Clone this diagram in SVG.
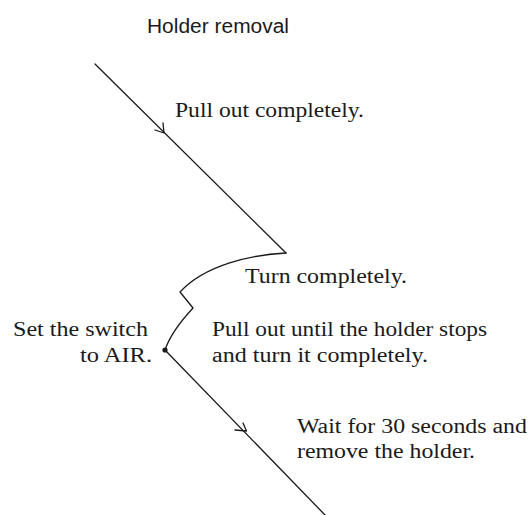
<svg xmlns="http://www.w3.org/2000/svg" width="531" height="515" viewBox="0 0 531 515">
<style>
.ln{fill:none;stroke:#1a1a1a;stroke-width:1.3;stroke-linecap:round;stroke-linejoin:round}
.t{font-family:"Liberation Serif","Times New Roman",serif;font-size:20px;fill:#1a1a1a}
.h{font-family:"Liberation Sans",Arial,sans-serif;font-size:20px;fill:#1a1a1a}
</style>
<rect width="531" height="515" fill="#ffffff"/>
<g id="connectors">
<path class="ln" d="M95,64 L286,253"/>
<path class="ln" d="M155,130 L164,133 L163,123"/>
<path class="ln" d="M286,253 C250,255 205,265 180,292 L193,308 C180,322 170,335 165,350"/>
<path class="ln" d="M165,350 L325,515"/>
<path class="ln" d="M235,430 L246.5,431 L243,423"/>
<circle cx="165" cy="350" r="2.6" fill="#1a1a1a"/>
</g>
<g id="title"><text class="h" x="147" y="33" textLength="142" lengthAdjust="spacingAndGlyphs">Holder removal</text></g>
<g id="step1"><text class="t" x="175" y="117" textLength="189" lengthAdjust="spacingAndGlyphs">Pull out completely.</text></g>
<g id="step2"><text class="t" x="245" y="283" textLength="162" lengthAdjust="spacingAndGlyphs">Turn completely.</text></g>
<g id="step3">
<text class="t" x="13" y="336" textLength="135" lengthAdjust="spacingAndGlyphs">Set the switch</text>
<text class="t" x="80" y="362" textLength="72" lengthAdjust="spacingAndGlyphs">to AIR.</text>
</g>
<g id="step4">
<text class="t" x="212" y="336" textLength="275" lengthAdjust="spacingAndGlyphs">Pull out until the holder stops</text>
<text class="t" x="212" y="362" textLength="216" lengthAdjust="spacingAndGlyphs">and turn it completely.</text>
</g>
<g id="step5">
<text class="t" x="297" y="433" textLength="230" lengthAdjust="spacingAndGlyphs">Wait for 30 seconds and</text>
<text class="t" x="297" y="458" textLength="178" lengthAdjust="spacingAndGlyphs">remove the holder.</text>
</g>
</svg>
